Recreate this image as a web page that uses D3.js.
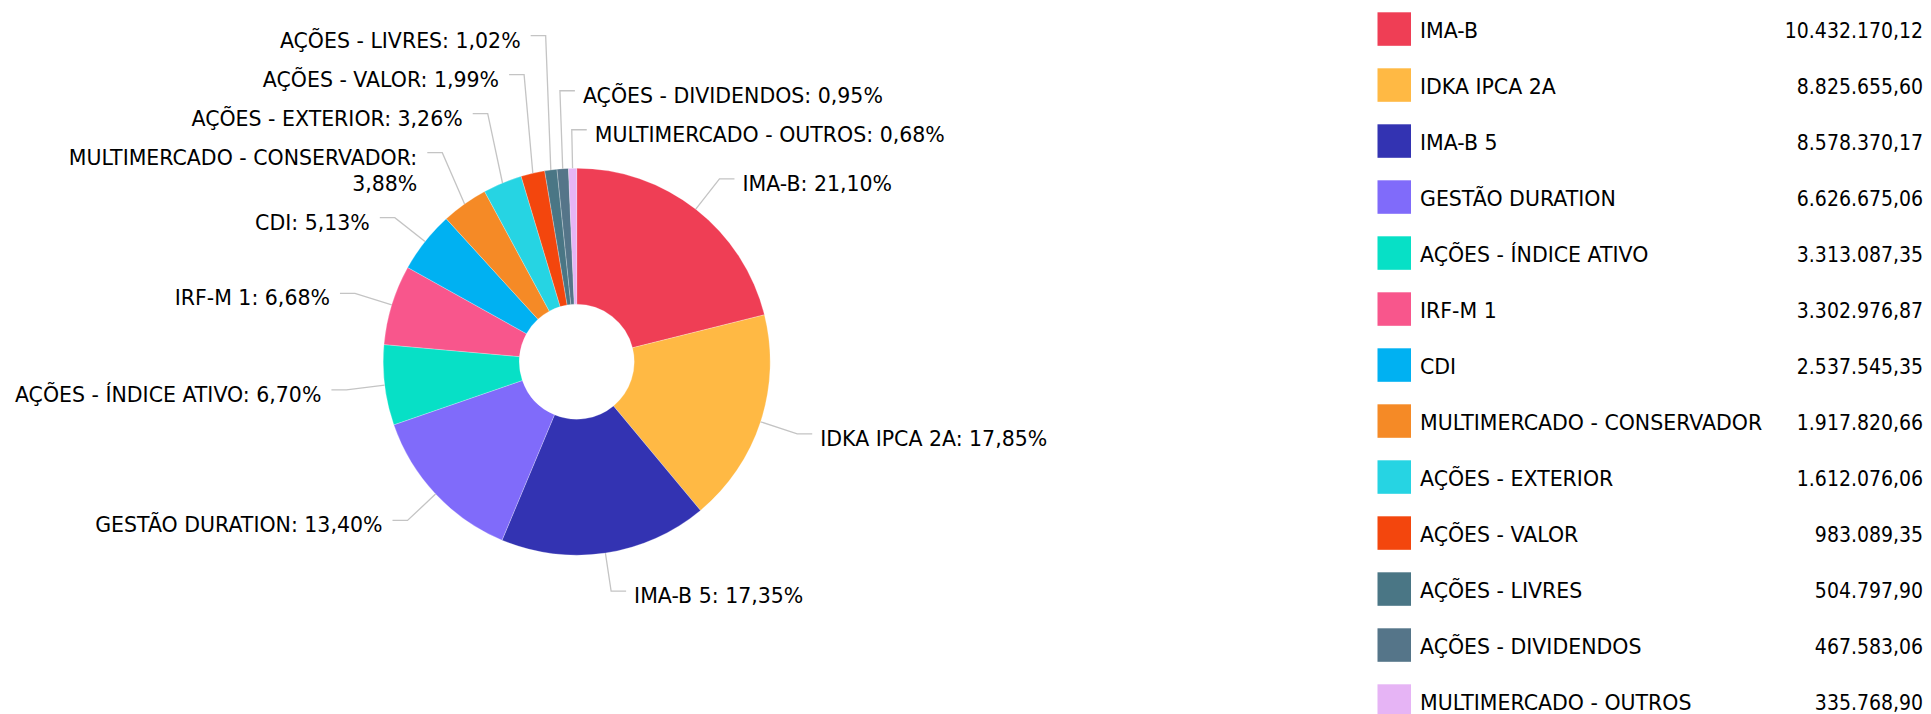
<!DOCTYPE html>
<html>
<head>
<meta charset="utf-8">
<script src="https://cdn.jsdelivr.net/npm/d3@7/dist/d3.min.js"></script>
<style>
    html, body { margin: 0; padding: 0; background: #fff; }
    #chart svg { display: block; font-family: "DejaVu Sans", sans-serif; }
    #chart .num { font-family: "DejaVu Sans Condensed", "DejaVu Sans", sans-serif; font-stretch: condensed; font-size: 21px; }
</style>
</head>
<body>
<div id="chart"></div>
<script>
// Carteira por segmento
var categories = [
    'IMA-B', 'IDKA IPCA 2A', 'IMA-B 5', 'GESTÃO DURATION', 'AÇÕES - ÍNDICE ATIVO',
    'IRF-M 1', 'CDI', 'MULTIMERCADO - CONSERVADOR', 'AÇÕES - EXTERIOR', 'AÇÕES - VALOR',
    'AÇÕES - LIVRES', 'AÇÕES - DIVIDENDOS', 'MULTIMERCADO - OUTROS'
];
var values = [
    10432170.12, 8825655.60, 8578370.17, 6626675.06, 3313087.35,
    3302976.87, 2537545.35, 1917820.66, 1612076.06, 983089.35,
    504797.90, 467583.06, 335768.90
];
var colors = [
    '#ef3e55', '#ffb944', '#3333b2', '#806bfa', '#07e0c6',
    '#f8568c', '#00b1f2', '#f58a26', '#26d4e3', '#f3460d',
    '#4a7685', '#557589', '#e6b4f5'
];

(function() {
    'use strict';

    var width = 1931, height = 714;
    var cx = 576.7, cy = 361.7;
    var outerR = 193.5, innerR = 57.5;
    var tickR = 232, hLen = 15, lineH = 26, gap = 13;
    var fontSize = 20.5;

    var br = d3.formatLocale({ decimal: ',', thousands: '.', grouping: [3], currency: ['R$', ''] });
    var fmtValue = br.format(',.2f');
    var fmtPct = br.format('.2f');
    var total = d3.sum(values);

    var svg = d3.select('#chart').append('svg')
        .attr('width', width)
        .attr('height', height)
        .attr('viewBox', [0, 0, width, height].join(' '))
        .style('font-size', fontSize + 'px');

    var pie = d3.pie().sort(null).value(function(d) { return d; });
    var arc = d3.arc().innerRadius(innerR).outerRadius(outerR);
    var arcs = pie(values);

    // Slices
    svg.append('g')
        .attr('transform', 'translate(' + cx + ',' + cy + ')')
        .selectAll('path')
        .data(arcs)
        .join('path')
        .attr('d', arc)
        .attr('fill', function(d, i) { return colors[i]; })
        .attr('stroke', '#fff')
        .attr('stroke-width', 0.5)
        .attr('stroke-opacity', 0.5);

    // Labels: natural position at the tick radius, then pushed up to avoid overlap
    var labels = arcs.map(function(a, i) {
        var mid = (a.startAngle + a.endAngle) / 2;
        var ex = cx + tickR * Math.sin(mid);
        var ey = cy - tickR * Math.cos(mid);
        return {
            i: i,
            mid: mid,
            sx: cx + outerR * Math.sin(mid),
            sy: cy - outerR * Math.cos(mid),
            ex: ex,
            ey: ey,
            y: ey,
            right: ex >= cx - 20,
            text: categories[i] + ': ' + fmtPct(values[i] / total * 100) + '%',
            lines: null
        };
    });

    var labelG = svg.append('g').attr('fill', '#000');
    var tickG = svg.append('g')
        .attr('fill', 'none')
        .attr('stroke', '#c4c4c4')
        .attr('stroke-width', 1.3);

    function split(s) {
        var k = s.lastIndexOf(' ');
        return [s.slice(0, k), s.slice(k + 1)];
    }

    // Measure, wrap labels that would leave the chart
    labels.forEach(function(l) {
        var tx = l.right ? l.ex + hLen + 8 : l.ex - hLen - 10;
        var t = labelG.append('text').text(l.text);
        var w = t.node().getComputedTextLength();
        t.remove();
        l.tx = tx;
        if (!l.right && tx - w < 4) l.lines = split(l.text);
        else if (l.right && tx + w > 1340) l.lines = split(l.text);
        else l.lines = [l.text];
    });

    function arrange(list) {
        for (var k = list.length - 2; k >= 0; k--) {
            var limit = list[k + 1].y - (list[k].lines.length * lineH + gap);
            list[k].y = Math.min(list[k].ey, limit);
        }
    }

    var rightSide = labels.filter(function(l) { return l.right; })
        .sort(function(a, b) {
            var ka = a.mid > Math.PI ? a.mid - 2 * Math.PI : a.mid;
            var kb = b.mid > Math.PI ? b.mid - 2 * Math.PI : b.mid;
            return ka - kb;
        });
    var leftSide = labels.filter(function(l) { return !l.right; })
        .sort(function(a, b) { return b.mid - a.mid; });
    arrange(rightSide);
    arrange(leftSide);

    var line = d3.line();
    labels.forEach(function(l) {
        var endX = l.right ? l.ex + hLen : l.ex - hLen;
        tickG.append('path')
            .attr('d', line([[l.sx, l.sy], [l.ex, l.y], [endX, l.y]]));

        var t = labelG.append('text')
            .attr('text-anchor', l.right ? 'start' : 'end')
            .attr('x', l.tx)
            .attr('y', l.y + 12);
        l.lines.forEach(function(s, j) {
            t.append('tspan')
                .attr('x', l.tx)
                .attr('dy', j === 0 ? 0 : lineH)
                .text(s);
        });
    });

    // Legend
    var legend = svg.append('g');
    var rowH = 56, legX = 1377.5, legY = 12.3;
    categories.forEach(function(name, i) {
        var y = legY + i * rowH;
        legend.append('rect')
            .attr('x', legX)
            .attr('y', y)
            .attr('width', 33.5)
            .attr('height', 33.5)
            .attr('fill', colors[i]);
        legend.append('text')
            .attr('x', 1420)
            .attr('y', y + 25.3)
            .attr('fill', '#000')
            .text(name);
        legend.append('text')
            .attr('class', 'num')
            .attr('x', 1923)
            .attr('y', y + 25.3)
            .attr('text-anchor', 'end')
            .attr('fill', '#000')
            .text(fmtValue(values[i]));
    });
})();
</script>
</body>
</html>
